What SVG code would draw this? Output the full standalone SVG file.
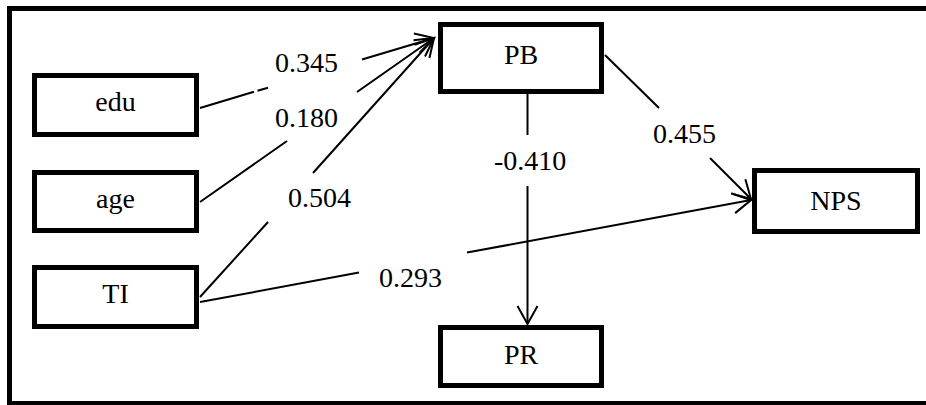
<svg xmlns="http://www.w3.org/2000/svg" width="926" height="405" viewBox="0 0 926 405">
  <style>
    .box { fill: #ffffff; stroke: #000000; stroke-width: 5; }
    .frame { fill: none; stroke: #000000; stroke-width: 5; }
    .name { font-family: "Liberation Serif", "Times New Roman", serif; font-size: 28px; fill: #000000; text-anchor: middle; }
    .coef { font-family: "Liberation Serif", "Times New Roman", serif; font-size: 28px; fill: #000000; }
    .edge { fill: none; stroke: #000000; stroke-width: 2; marker-end: url(#arrow); }
  </style>
  <defs>
    <!-- open V arrowhead -->
    <marker id="arrow" markerUnits="userSpaceOnUse" markerWidth="24" markerHeight="24" viewBox="-20 -12 22 24" refX="0" refY="0" orient="auto">
      <path d="M -18,-10 L 0,0 L -18,10" fill="none" stroke="#000000" stroke-width="2"/>
    </marker>
  </defs>

  <!-- outer frame (right side runs off the page) -->
  <rect class="frame" x="9.5" y="8.5" width="930" height="395"/>

  <g id="connectors">
    <!-- edu -> PB -->
    <path class="edge" d="M 200,108 L 254,91.8 M 257.5,90.8 L 268,87.7 M 362,59.5 L 434,38"/>
    <!-- age -> PB -->
    <path class="edge" d="M 200,202 L 287,141 M 357,92 L 434,38"/>
    <!-- TI -> PB -->
    <path class="edge" d="M 200,297 L 268,222 M 313,173 L 434,38"/>
    <!-- TI -> NPS -->
    <path class="edge" d="M 200,302 L 359,272.6 M 467,252.6 L 751,200"/>
    <!-- PB -> NPS -->
    <path class="edge" d="M 605,55 L 659,108 M 710,158 L 751,199"/>
    <!-- PB -> PR -->
    <path class="edge" d="M 527.5,94 L 527.5,135 M 527.5,186 L 527.5,324"/>
  </g>

  <g id="labels">
    <text class="coef" x="275" y="72">0.345</text>
    <text class="coef" x="275" y="127">0.180</text>
    <text class="coef" x="288" y="207">0.504</text>
    <text class="coef" x="379" y="287">0.293</text>
    <text class="coef" x="653" y="143">0.455</text>
    <text class="coef" x="494" y="170">-0.410</text>
  </g>

  <g id="edu">
    <rect class="box" x="34.5" y="75.5" width="162" height="59"/>
    <text class="name" x="115.5" y="111">edu</text>
  </g>
  <g id="age">
    <rect class="box" x="34.5" y="172.5" width="162" height="58"/>
    <text class="name" x="115.5" y="208">age</text>
  </g>
  <g id="TI">
    <rect class="box" x="34.5" y="267.5" width="162" height="59"/>
    <text class="name" x="115.5" y="303">TI</text>
  </g>
  <g id="PB">
    <rect class="box" x="440.5" y="24.5" width="161" height="67"/>
    <text class="name" x="521" y="64">PB</text>
  </g>
  <g id="NPS">
    <rect class="box" x="754.5" y="170.5" width="163" height="61"/>
    <text class="name" x="836" y="210">NPS</text>
  </g>
  <g id="PR">
    <rect class="box" x="440.5" y="327.5" width="161" height="58"/>
    <text class="name" x="521" y="364">PR</text>
  </g>
</svg>
